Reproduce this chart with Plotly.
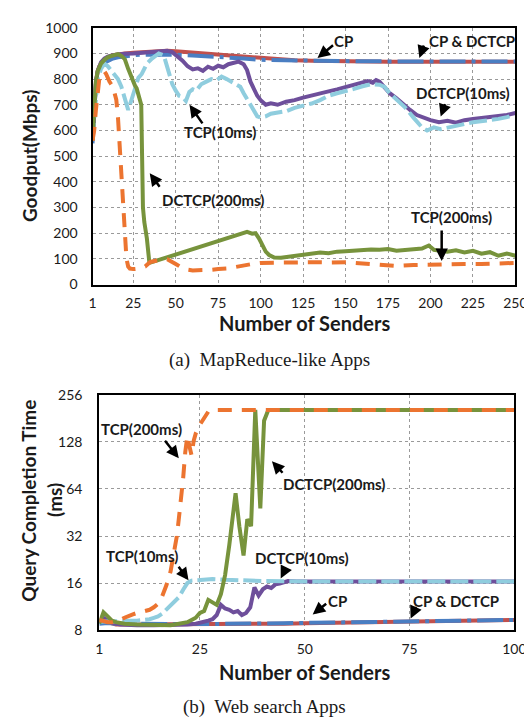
import math
import plotly.graph_objects as go

W, H = 532, 719

# ---------------- (a) MapReduce-like Apps : Goodput (Mbps) ----------------
a_cp_x = [1, 2, 3, 4, 5, 7, 10, 13, 16, 20, 25, 30, 35, 40, 45, 50, 60, 70, 80, 90, 100, 110, 120, 130, 140, 150, 175, 200, 225, 250]
a_cp_y = [560, 700, 790, 830, 850, 870, 885, 893, 897, 900, 903, 905, 907, 909, 910, 908, 903, 897, 891, 885, 880, 876, 873, 871, 870, 869, 868, 868, 868, 868]

a_cpd_x = [1, 2, 3, 4, 5, 7, 10, 13, 16, 20, 25, 30, 40, 50, 60, 70, 80, 90, 100, 125, 150, 175, 200, 225, 250]
a_cpd_y = [550, 680, 780, 830, 845, 860, 872, 880, 885, 890, 893, 895, 896, 895, 892, 889, 885, 880, 875, 871, 870, 869, 869, 869, 869]

a_d10_x = [1, 2, 3, 4, 6, 8, 10, 13, 16, 20, 25, 30, 35, 40, 45, 48, 51, 54, 57, 60, 63, 66, 69, 72, 75, 78, 81, 84, 87, 90,
           92, 94, 96, 98, 100, 103, 106, 110, 115, 120, 125, 130, 135, 140, 145, 150, 155, 160, 163, 166, 168, 170, 173, 176,
           180, 184, 188, 192, 196, 200, 205, 210, 215, 220, 225, 230, 235, 240, 245, 250]
a_d10_y = [560, 700, 780, 830, 865, 880, 888, 893, 897, 899, 900, 903, 905, 908, 910, 905, 890, 872, 850, 838, 842, 832, 848, 840, 852, 846, 858, 862, 868, 858,
           835, 790, 760, 735, 718, 700, 706, 700, 712, 718, 728, 735, 745, 752, 760, 768, 778, 785, 792, 786, 796, 790, 770, 745,
           725, 700, 680, 660, 648, 640, 632, 638, 630, 640, 645, 650, 652, 656, 660, 668]

a_t10_x = [1, 2, 3, 4, 6, 8, 10, 12, 14, 16, 18, 20, 22, 24, 26, 28, 30, 33, 36, 40, 43, 46, 48, 50, 52, 54, 56, 58, 60, 62,
           65, 68, 71, 74, 77, 80, 83, 86, 88, 90, 93, 96, 98, 100, 103, 106, 110, 115, 120, 125, 130, 135, 140, 145, 150,
           155, 160, 165, 170, 173, 176, 180, 185, 190, 195, 198, 202, 206, 210, 215, 220, 225, 230, 235, 240, 245, 248]
a_t10_y = [560, 650, 740, 800, 840, 860, 850, 835, 820, 800, 770, 720, 680, 720, 770, 805, 820, 860, 880, 900, 892, 820, 780, 755, 735, 730, 715, 750, 760, 755,
           780, 790, 800, 795, 810, 800, 790, 780, 770, 745, 710, 680, 655, 650, 655, 665, 668, 675, 688, 695, 705, 718, 735, 745, 752,
           762, 772, 780, 778, 770, 745, 720, 690, 650, 612, 600, 612, 605, 610, 615, 625, 632, 636, 638, 645, 652, 658]

a_d200_x = [1, 2, 3, 4, 5, 6, 8, 10, 12, 14, 16, 18, 20, 22, 24, 26, 27, 28, 29, 29.7, 30.2, 30.7, 31.5, 33, 34.5, 92,
            95, 97, 99, 101, 103, 105, 108, 112, 116, 120, 125, 130, 135, 140, 145, 150, 155, 160, 165, 170, 175, 180, 185,
            190, 195, 199, 202, 206, 210, 215, 220, 225, 230, 235, 240, 245, 250]
a_d200_y = [560, 700, 790, 830, 850, 860, 875, 885, 890, 893, 897, 890, 878, 840, 802, 775, 764, 740, 726, 700, 500, 300, 243, 180, 84, 205,
            198, 200, 180, 150, 128, 115, 105, 104, 108, 112, 116, 120, 125, 122, 128, 130, 133, 134, 136, 135, 138, 132, 136,
            137, 140, 152, 135, 130, 128, 133, 125, 131, 120, 126, 112, 121, 112]

a_t200_x = [1, 2, 3, 4, 5, 6, 7, 8, 9, 10, 11, 12, 13, 14, 15, 16, 17, 18, 19, 20, 21, 22, 23, 25, 28, 32, 35, 40, 45, 50,
            55, 60, 65, 70, 75, 80, 85, 90, 95, 100, 110, 120, 130, 140, 150, 160, 170, 180, 190, 200, 210, 220, 230, 240, 250]
a_t200_y = [560, 600, 680, 760, 800, 815, 825, 830, 820, 800, 790, 780, 770, 745, 720, 650, 540, 420, 290, 180, 100, 70, 62, 60, 62, 70, 88, 95, 98, 80,
            60, 55, 55, 57, 60, 62, 68, 75, 80, 84, 85, 88, 87, 86, 87, 82, 76, 72, 76, 78, 80, 80, 80, 82, 84]

a_xticks = [1, 25, 50, 75, 100, 125, 150, 175, 200, 225, 250]
a_yticks = [0, 100, 200, 300, 400, 500, 600, 700, 800, 900, 1000]

# ---------------- (b) Web search Apps : Query Completion Time (ms) ----------------
b_cp_x = [1, 2, 3, 4, 5, 8, 10, 15, 20, 25, 30, 35, 40, 45, 50, 55, 60, 65, 70, 75, 80, 85, 90, 95, 100]
b_cp_y = [8.9, 9.4, 9.0, 8.8, 8.7, 8.7, 8.7, 8.7, 8.7, 8.7, 8.7, 8.7, 8.75, 8.8, 8.85, 8.9, 8.95, 9.0, 9.05, 9.1, 9.1, 9.15, 9.2, 9.25, 9.3]

b_cpd_x = [1, 3, 5, 10, 15, 20, 25, 30, 35, 40, 45, 50, 60, 70, 75, 80, 90, 100]
b_cpd_y = [8.8, 8.9, 8.8, 8.75, 8.75, 8.75, 8.75, 8.75, 8.75, 8.8, 8.85, 8.9, 9.0, 9.05, 9.1, 9.1, 9.2, 9.3]

b_d10_x = [1, 2, 3, 4, 6, 8, 10, 14, 18, 20, 22, 24, 26, 27, 28, 29, 30, 31, 32, 33, 34, 35, 36, 37, 38, 39, 40, 41, 42, 43,
           44, 45, 46, 48, 50, 60, 70, 80, 90, 100]
b_d10_y = [9.0, 9.6, 9.2, 8.9, 8.7, 8.6, 8.6, 8.6, 8.6, 8.65, 8.7, 8.8, 9.0, 9.2, 9.4, 10.0, 11.6, 11.0, 10.8, 10.4, 10.6, 10.0, 10.3, 11.2, 15.0, 13.3, 14.6, 15.2, 14.9, 15.7,
           15.9, 16.3, 16.5, 16.4, 16.4, 16.4, 16.4, 16.4, 16.4, 16.4]

b_t10_x = [1, 2, 4, 6, 8, 10, 12, 13, 14, 15, 16, 17, 18, 19, 20, 21, 22, 23, 25, 28, 31, 35, 40, 50, 60, 70, 80, 90, 100]
b_t10_y = [9.0, 9.1, 9.1, 9.2, 9.2, 9.2, 9.3, 9.4, 9.6, 9.8, 10.2, 10.8, 11.4, 12.2, 13.0, 14.5, 16.0, 16.6, 16.8, 17.0, 16.8, 16.6, 16.5, 16.4, 16.4, 16.4, 16.4, 16.4, 16.4]

b_d200_x = [1, 2, 3, 4, 5, 7, 10, 14, 18, 20, 22, 23, 24, 25, 26, 27, 28, 29, 30, 31, 32, 33, 33.5, 34.4, 35.4, 36.3, 37.2, 38.2,
            39.4, 40.3, 41.3, 43, 50, 60, 70, 80, 90, 100]
b_d200_y = [8.8, 10.4, 9.8, 9.2, 9.0, 8.8, 8.7, 8.6, 8.6, 8.8, 9.0, 9.3, 9.6, 10.3, 10.6, 12.5, 12.0, 11.6, 13.6, 18, 28, 45, 60, 37, 24, 41, 37, 205,
            48, 175, 205, 205, 205, 205, 205, 205, 205, 205]

b_t200_x = [1, 2, 3, 4, 5, 6, 7, 8, 9, 10, 11, 12, 13, 14, 15, 16, 17, 18, 19, 19.5, 20, 20.5, 21, 21.5, 22, 22.5, 23, 23.5, 24,
            25, 26, 27, 28, 30, 40, 50, 60, 70, 80, 90, 100]
b_t200_y = [9.3, 9.1, 9.0, 9.0, 9.1, 9.3, 9.6, 9.9, 10.1, 10.3, 10.5, 10.6, 10.8, 11.2, 11.8, 13.2, 15.5, 19, 26, 32, 42, 55, 75, 110, 140, 120, 105, 130, 145,
            165, 180, 200, 205, 205, 205, 205, 205, 205, 205, 205, 205]

b_xticks = [1, 25, 50, 75, 100]
b_yticks = [8, 16, 32, 64, 128, 256]

# ---------------- styles ----------------
C_RED = "#C0504D"
C_BLUE = "#4A7EC2"
C_PURPLE = "#6E4F9B"
C_LBLUE = "#8FCDDE"
C_GREEN = "#77933C"
C_ORANGE = "#EC7430"
SANS = "Lato, 'Open Sans', sans-serif"
SERIF = "'Liberation Serif', 'DejaVu Serif', serif"

fig = go.Figure()


def add(x, y, color, dash, xa, ya, width=4):
    fig.add_trace(go.Scatter(x=x, y=y, mode="lines",
                             line=dict(color=color, width=width, dash=dash),
                             xaxis=xa, yaxis=ya, showlegend=False, hoverinfo="skip"))


DASH_CPD = "26px,6px,4px,6px"
DASH_T10 = "18px,5px"
DASH_T200 = "14px,10px"

add(a_cp_x, a_cp_y, C_RED, "solid", "x", "y")
add(a_cpd_x, a_cpd_y, C_BLUE, DASH_CPD, "x", "y")
add(a_d10_x, a_d10_y, C_PURPLE, "solid", "x", "y")
add(a_t10_x, a_t10_y, C_LBLUE, DASH_T10, "x", "y")
add(a_d200_x, a_d200_y, C_GREEN, "solid", "x", "y")
add(a_t200_x, a_t200_y, C_ORANGE, DASH_T200, "x", "y")

add(b_cp_x, b_cp_y, C_RED, "solid", "x2", "y2")
add(b_cpd_x, b_cpd_y, C_BLUE, DASH_CPD, "x2", "y2")
add(b_d10_x, b_d10_y, C_PURPLE, "solid", "x2", "y2")
add(b_t10_x, b_t10_y, C_LBLUE, DASH_T10, "x2", "y2")
add(b_d200_x, b_d200_y, C_GREEN, "solid", "x2", "y2")
add(b_t200_x, b_t200_y, C_ORANGE, DASH_T200, "x2", "y2")

axis_common = dict(showgrid=True, griddash="dot", gridcolor="#9a9a9a", gridwidth=1,
                   showline=True, mirror=True, linecolor="black", linewidth=2,
                   zeroline=False, ticks="", tickfont=dict(family=SANS, size=14, color="#1a1a1a"))

fig.update_layout(
    width=W, height=H, margin=dict(l=0, r=0, t=0, b=0),
    paper_bgcolor="white", plot_bgcolor="white",
    xaxis=dict(domain=[83 / W, 519 / W], range=[1, 250], tickvals=a_xticks, anchor="y",
               ticklabelstandoff=5, **axis_common),
    yaxis=dict(domain=[1 - 274 / H, 1 - 11 / H], range=[0, 1000], tickvals=a_yticks, anchor="x",
               ticklabelstandoff=10, **axis_common),
    xaxis2=dict(domain=[90 / W, 518 / W], range=[1, 100], tickvals=b_xticks, anchor="y2",
                ticklabelstandoff=5, **axis_common),
    yaxis2=dict(domain=[1 - 628 / H, 1 - 387 / H], type="log", range=[math.log10(8), math.log10(256)],
                tickvals=b_yticks, ticktext=[str(v) for v in b_yticks], anchor="x2",
                ticklabelstandoff=12, **axis_common),
)


def P(x, y):
    return x / W, 1 - y / H


def text(x, y, s, size=15, bold=True, family=SANS, angle=0, color="#1a1a1a"):
    px_, py_ = P(x, y)
    fig.add_annotation(x=px_, y=py_, xref="paper", yref="paper", text=(f"<b>{s}</b>" if bold else s),
                       showarrow=False, textangle=angle, xanchor="center", yanchor="middle",
                       font=dict(family=family, size=size, color=color))


def arrow(tail, tip):
    tx, ty = P(*tip)
    fig.add_annotation(x=tx, y=ty, xref="paper", yref="paper", text="", showarrow=True,
                       ax=tail[0] - tip[0], ay=tail[1] - tip[1], axref="pixel", ayref="pixel",
                       arrowhead=2, arrowsize=1, arrowwidth=2.5, arrowcolor="black", standoff=0)


# axis titles
text(18, 142, "Goodput(Mbps)", size=19, angle=-90)
text(302, 313, "Number of Senders", size=20)
text(17, 495, "Query Completion Time", size=19, angle=-90)
text(44, 495, "(ms)", size=19, angle=-90)
text(302, 671, "Number of Senders", size=20)

# captions
text(265, 351, "(a)  MapReduce-like Apps", size=19, bold=False, family=SERIF)
text(260, 707, "(b)  Web search Apps", size=19, bold=False, family=SERIF)

# series labels (a)
text(342, 25, "CP")
arrow((332, 28), (315, 42))
text(474, 25, "CP &amp; DCTCP")
arrow((425, 28), (420, 42))
text(465, 78, "DCTCP(10ms)")
arrow((447, 88), (442, 102))
text(453, 205, "TCP(200ms)")
arrow((443, 218), (443, 250))
text(214, 118, "TCP(10ms)")
arrow((197, 110), (183, 90))
text(207, 187, "DCTCP(200ms)")
arrow((153, 175), (142, 160))

# series labels (b)
text(134, 422, "TCP(200ms)")
arrow((157, 433), (172, 452))
text(134, 552, "TCP(10ms)")
arrow((171, 562), (182, 577))
text(332, 478, "DCTCP(200ms)")
arrow((280, 468), (268, 455))
text(299, 554, "DCTCP(10ms)")
arrow((282, 565), (277, 575))
text(336, 598, "CP")
arrow((325, 600), (310, 612))
text(458, 598, "CP &amp; DCTCP")
arrow((417, 603), (411, 616))

fig.write_html("out.html")
